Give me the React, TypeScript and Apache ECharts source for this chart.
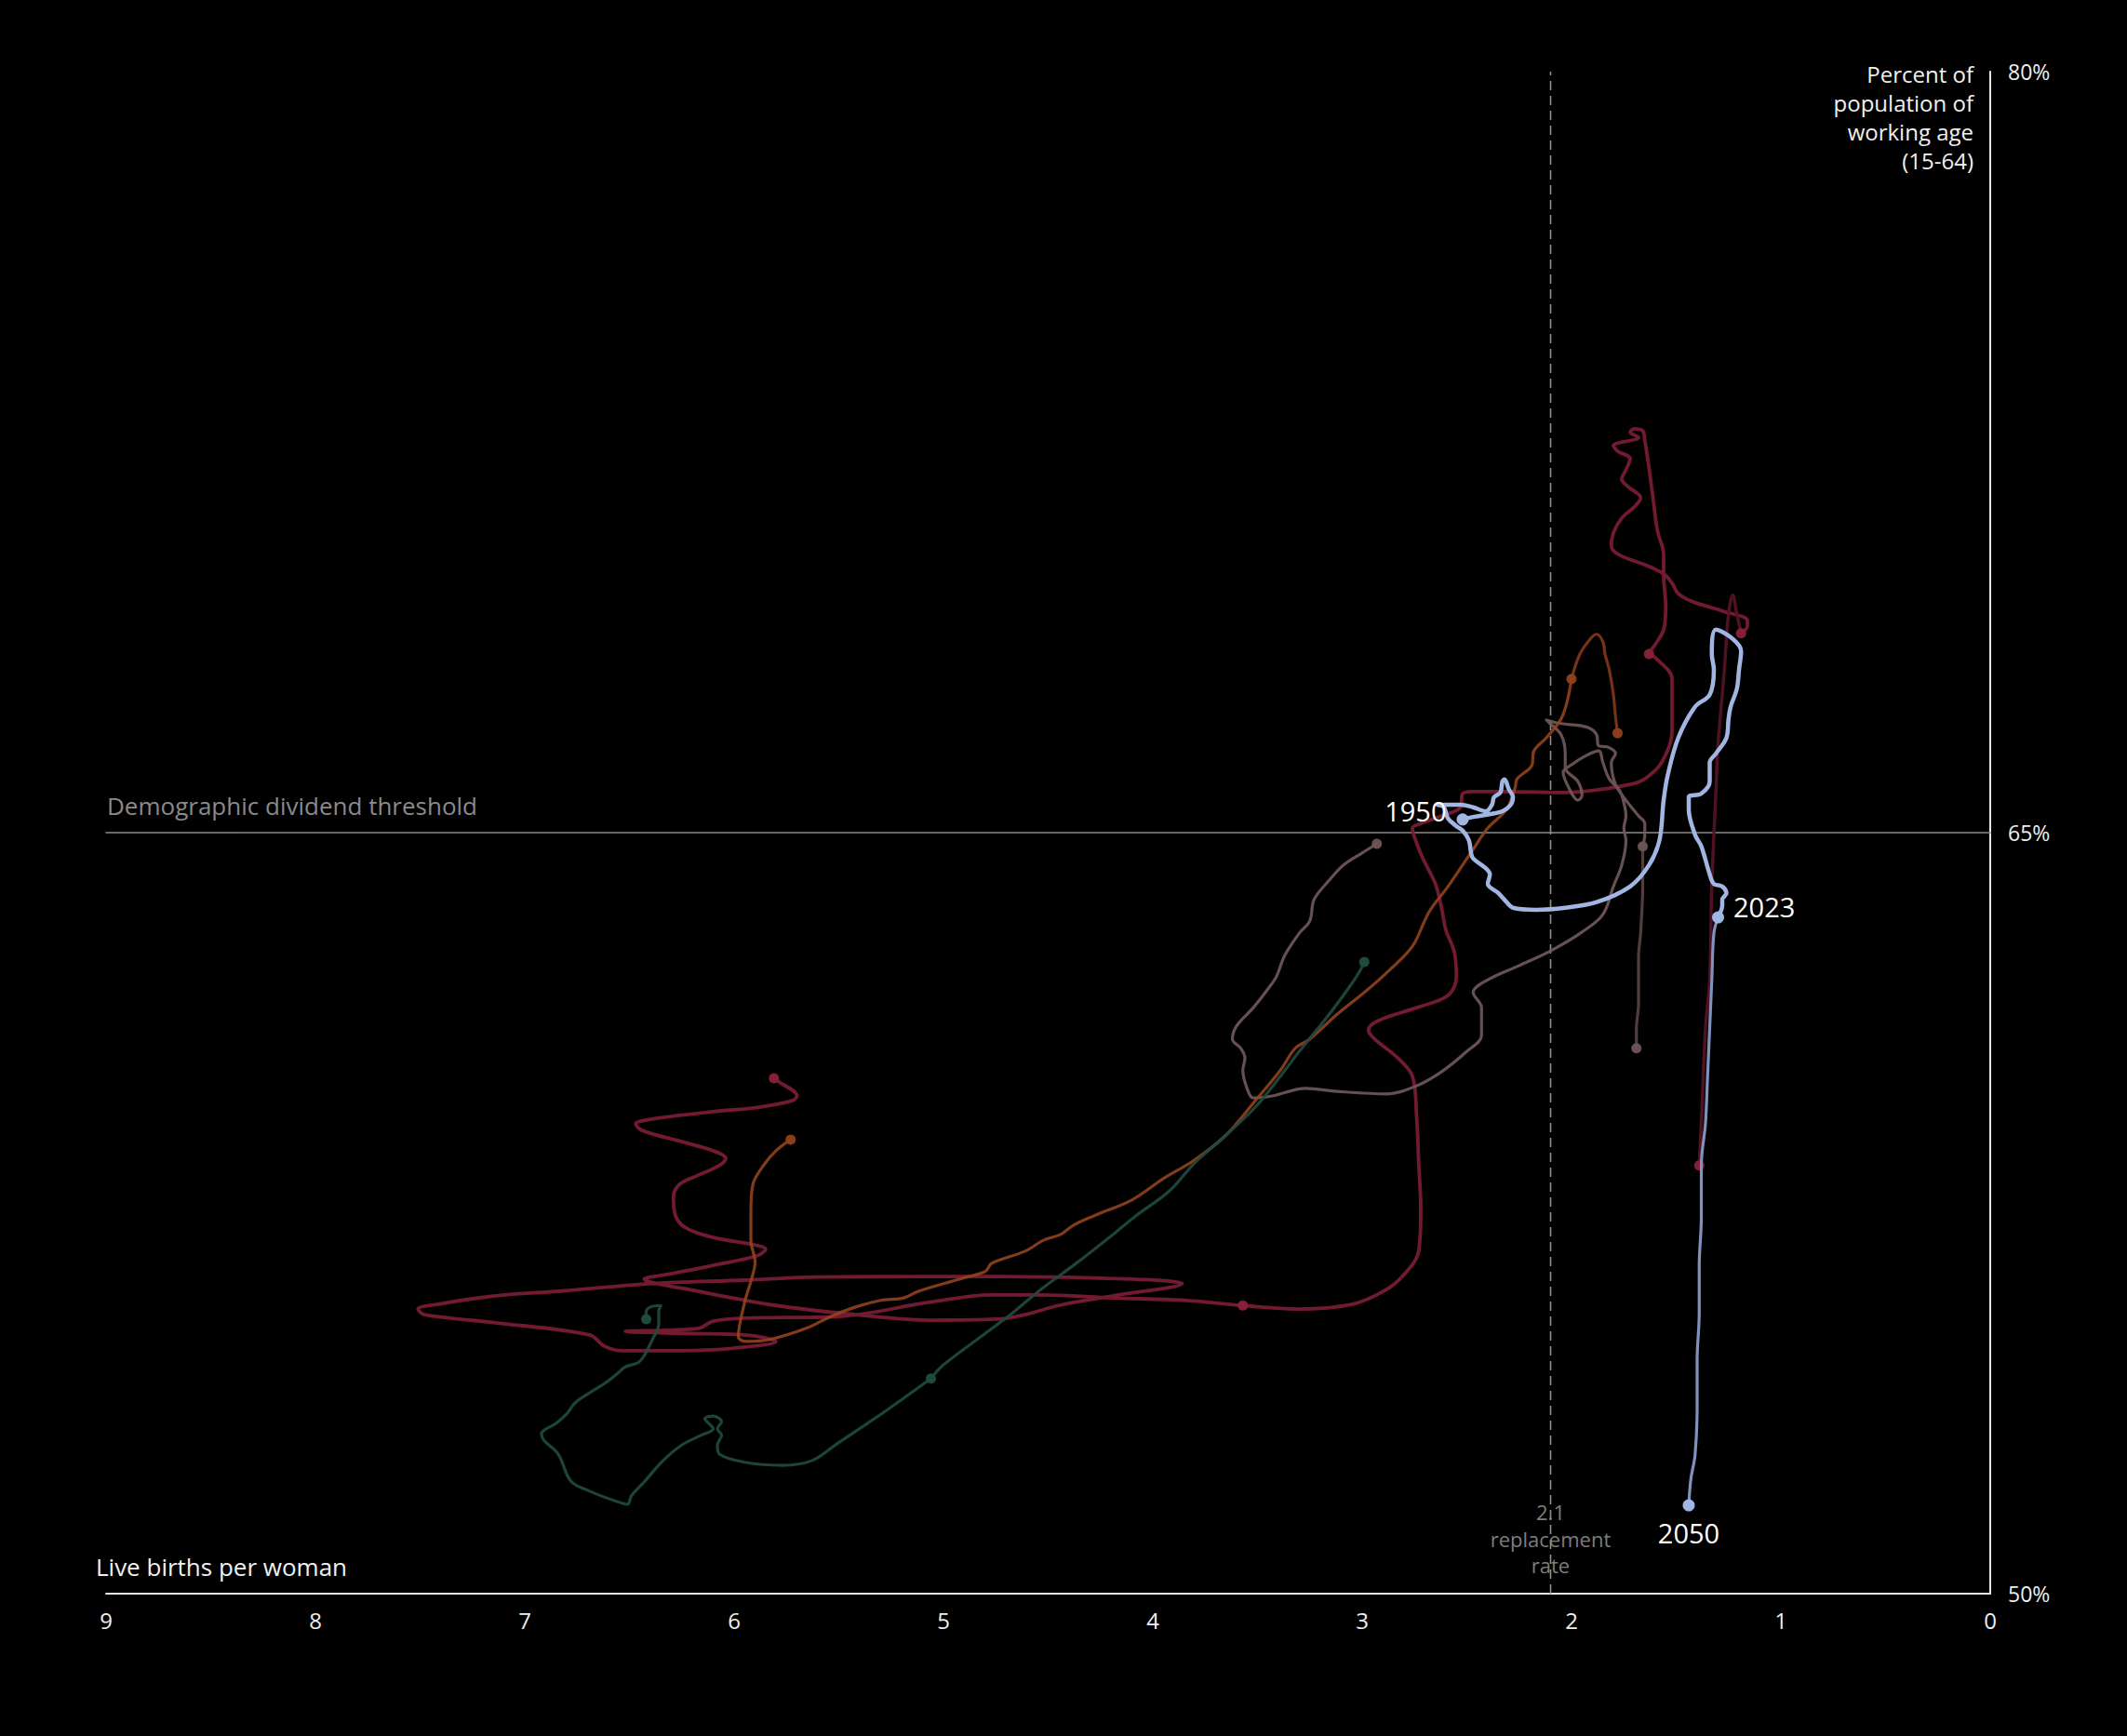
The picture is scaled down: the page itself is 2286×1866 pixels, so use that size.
import React, { useEffect, useRef } from "react";
import * as echarts from "echarts";

const W = 2286;
const H = 1866;
const FONT = "'Open Sans', Lato, 'DejaVu Sans', sans-serif";

// Axis setup
const xMin = 0;
const xMax = 9;
const yMin = 50;
const yMax = 80;
const yInterval = 15;
const thresholdValue = 65;
const replacementRate = 2.1;

const thresholdLine = [[9, 65], [0, 65]];
const replacementLine = [[2.1, 50], [2.1, 80]];

// Crimson country (history 1950-2023)
const crimsonHist = [
  [5.81,60.16],[5.79,60.10],[5.70,59.81],[5.72,59.72],[5.88,59.59],[6.10,59.50],[6.40,59.35],[6.47,59.26],[6.44,59.13],[6.25,58.91],[6.10,58.73],[6.04,58.58],[6.07,58.44],[6.17,58.25],[6.26,58.07],[6.29,57.81],[6.28,57.45],[6.23,57.21],[6.10,57.02],[5.91,56.88],[5.85,56.79],[5.89,56.66],[6.10,56.47],[6.32,56.29],[6.43,56.20],[6.40,56.14],[6.25,56.02],[5.80,55.68],[5.42,55.50],[5.07,55.39],[4.75,55.41],[4.61,55.50],[4.45,55.68],[4.19,55.87],[3.86,56.11],[4.10,56.20],[4.72,56.25],[5.06,56.25],[5.60,56.24],[5.95,56.18],[6.40,56.11],[6.84,55.96],[7.14,55.87],[7.42,55.70],[7.51,55.61],[7.48,55.50],[7.14,55.34],[6.69,55.10],[6.62,54.88],[6.54,54.79],[6.25,54.79],[6.00,54.84],[5.80,54.97],[5.95,55.10],[6.25,55.13],[6.52,55.17],[6.17,55.23],[6.10,55.37],[5.95,55.43],[5.51,55.46],[5.07,55.74],[4.77,55.89],[4.54,55.89],[4.19,55.83],[3.84,55.78],[3.57,55.68],[3.31,55.61],[3.05,55.70],[2.89,55.98],[2.80,56.29],[2.73,56.75],[2.72,57.57],[2.73,58.49],[2.74,59.41],[2.76,60.20],[2.83,60.56],[2.94,60.93],[2.97,61.11],[2.92,61.30],[2.74,61.55],[2.59,61.79],[2.55,62.16],[2.56,62.65],[2.60,63.08],[2.62,63.50],[2.65,63.99],[2.71,64.49],[2.75,64.91],[2.76,65.09],[2.72,65.18],[2.62,65.33],[2.53,65.50],[2.52,65.77],[2.47,65.81],[2.32,65.81],[2.03,65.79],[1.88,65.84],[1.72,65.95],[1.65,66.06],[1.57,66.38],[1.52,66.98],[1.52,67.60],[1.52,68.03],[1.60,68.45],[1.63,68.52],[1.60,68.71],[1.56,69.00],[1.55,69.44],[1.56,70.10],[1.56,70.47],[1.59,70.96],[1.61,71.57],[1.63,72.19],[1.65,72.74],[1.66,72.92],[1.70,72.96],[1.72,72.89],[1.68,72.79],[1.80,72.63],[1.78,72.52],[1.72,72.37],[1.74,72.15],[1.76,71.97],[1.73,71.82],[1.67,71.60],[1.70,71.42],[1.76,71.20],[1.80,70.91],[1.81,70.65],[1.77,70.47],[1.65,70.28],[1.56,70.10],[1.52,69.92],[1.49,69.71],[1.42,69.55],[1.28,69.37],[1.16,69.18],[1.16,69.07],[1.19,68.93]
];
const crimsonProj = [
  [1.19,68.93],[1.21,69.31],[1.23,69.68],[1.25,69.31],[1.27,68.21],[1.30,66.74],[1.31,65.83],[1.33,63.96],[1.34,62.09],[1.36,61.15],[1.38,59.28],[1.39,58.44]
];
const crimsonDots = [[5.81,60.16],[3.57,55.68],[1.63,68.52],[1.19,68.93],[1.39,58.44]];

// Mauve country
const mauveHist = [
  [2.93,64.78],[3.00,64.60],[3.09,64.36],[3.16,64.05],[3.23,63.68],[3.25,63.26],[3.30,63.02],[3.37,62.58],[3.41,62.16],[3.45,61.92],[3.52,61.55],[3.60,61.19],[3.62,60.93],[3.58,60.75],[3.56,60.56],[3.57,60.32],[3.55,59.96],[3.52,59.77],[3.43,59.81],[3.27,59.96],[3.12,59.90],[2.88,59.85],[2.74,60.01],[2.62,60.29],[2.50,60.69],[2.43,61.00],[2.43,61.55],[2.47,61.85],[2.40,62.10],[2.25,62.38],[2.10,62.67],[1.95,63.04],[1.85,63.39],[1.80,63.94],[1.76,64.36],[1.74,64.85],[1.75,65.09],[1.74,65.33],[1.75,65.59],[1.77,65.83],[1.82,66.06],[1.85,66.38],[1.87,66.61],[1.93,66.52],[2.00,66.34],[2.04,66.19],[2.01,65.86],[1.97,65.64],[1.95,65.73],[1.97,66.01],[2.03,66.28],[2.03,66.56],[2.05,66.93],[2.11,67.18],[2.12,67.22],[2.05,67.15],[1.96,67.11],[1.91,67.05],[1.88,66.93],[1.87,66.71],[1.83,66.69],[1.79,66.56],[1.81,66.38],[1.79,65.95],[1.74,65.64],[1.68,65.33],[1.65,65.18],[1.65,64.96],[1.66,64.73]
];
const mauveProj = [
  [1.66,64.73],[1.66,63.96],[1.67,63.02],[1.68,62.54],[1.68,62.08],[1.68,61.61],[1.69,61.15],[1.69,60.75]
];
const mauveDots = [[2.93,64.78],[1.66,64.73],[1.69,60.75]];

// Orange country
const orangeHist = [
  [5.73,58.95],[5.80,58.73],[5.86,58.44],[5.91,58.07],[5.92,57.52],[5.92,56.97],[5.90,56.53],[5.92,56.16],[5.95,55.74],[5.98,55.06],[5.94,54.97],[5.83,55.01],[5.65,55.24],[5.54,55.46],[5.42,55.65],[5.30,55.78],[5.19,55.83],[5.12,55.96],[4.89,56.24],[4.80,56.35],[4.77,56.51],[4.61,56.75],[4.52,56.97],[4.44,57.08],[4.38,57.26],[4.28,57.45],[4.10,57.76],[3.95,58.18],[3.80,58.55],[3.65,59.04],[3.51,59.72],[3.39,60.32],[3.32,60.75],[3.25,60.93],[3.12,61.42],[2.99,61.85],[2.87,62.29],[2.76,62.76],[2.68,63.44],[2.59,63.94],[2.47,64.67],[2.40,65.09],[2.31,65.46],[2.27,65.88],[2.26,66.06],[2.19,66.32],[2.18,66.61],[2.12,66.87],[2.05,67.24],[2.02,67.60],[2.00,68.03]
];
const orangeProj = [
  [2.00,68.03],[1.96,68.52],[1.91,68.82],[1.88,68.91],[1.85,68.76],[1.84,68.52],[1.82,68.21],[1.80,67.72],[1.79,67.29],[1.78,66.96]
];
const orangeDots = [[5.73,58.95],[2.00,68.03],[1.78,66.96]];

// Green country
const greenHist = [
  [6.42,55.41],[6.42,55.56],[6.40,55.65],[6.35,55.68],[6.36,55.56],[6.36,55.32],[6.39,55.01],[6.43,54.69],[6.46,54.55],[6.52,54.47],[6.56,54.33],[6.62,54.14],[6.69,53.96],[6.76,53.76],[6.80,53.54],[6.85,53.36],[6.92,53.15],[6.91,53.03],[6.84,52.75],[6.78,52.22],[6.69,52.02],[6.57,51.83],[6.51,51.76],[6.49,51.93],[6.43,52.20],[6.34,52.62],[6.25,52.93],[6.16,53.12],[6.10,53.25],[6.14,53.45],[6.10,53.50],[6.06,53.39],[6.08,53.25],[6.06,53.12],[6.08,52.93],[6.07,52.75],[5.95,52.59],[5.77,52.53],[5.63,52.62],[5.51,52.95],[5.28,53.59],[5.06,54.24]
];
const greenProj = [
  [5.06,54.24],[5.00,54.51],[4.80,55.13],[4.68,55.50],[4.54,55.98],[4.36,56.53],[4.19,57.08],[4.08,57.45],[3.92,57.94],[3.80,58.49],[3.65,59.04],[3.51,59.59],[3.39,60.20],[3.30,60.69],[3.18,61.30],[3.09,61.79],[3.02,62.21],[2.99,62.45]
];
const greenDots = [[6.42,55.41],[5.06,54.24],[2.99,62.45]];

// Highlighted (blue) country
const blueHist = [
  [2.52,65.26],[2.47,65.31],[2.38,65.37],[2.33,65.42],[2.29,65.55],[2.28,65.70],[2.30,65.86],[2.32,66.05],[2.33,66.01],[2.34,65.79],[2.37,65.70],[2.38,65.55],[2.41,65.42],[2.47,65.50],[2.53,65.55],[2.64,65.55],[2.61,65.50],[2.59,65.28],[2.55,65.13],[2.52,65.04],[2.49,64.85],[2.48,64.60],[2.47,64.49],[2.41,64.30],[2.39,64.18],[2.40,63.99],[2.35,63.81],[2.31,63.63],[2.28,63.52],[2.17,63.48],[2.03,63.52],[1.88,63.63],[1.72,63.94],[1.63,64.36],[1.58,64.85],[1.56,65.64],[1.54,66.14],[1.49,66.87],[1.41,67.48],[1.34,67.72],[1.32,68.21],[1.33,68.52],[1.31,69.00],[1.23,68.82],[1.19,68.58],[1.20,68.21],[1.21,67.84],[1.24,67.48],[1.25,67.24],[1.26,66.87],[1.31,66.56],[1.34,66.38],[1.34,66.01],[1.38,65.77],[1.44,65.70],[1.44,65.46],[1.41,64.96],[1.38,64.73],[1.34,64.18],[1.32,63.99],[1.28,63.94],[1.26,63.81],[1.28,63.68],[1.28,63.57],[1.30,63.33]
];
const blueProj = [
  [1.30,63.33],[1.32,63.02],[1.33,62.09],[1.34,61.15],[1.35,60.21],[1.36,59.28],[1.38,58.44],[1.38,57.41],[1.39,56.47],[1.39,55.54],[1.40,54.60],[1.40,53.67],[1.41,52.73],[1.43,52.26],[1.44,51.74]
];
const blueDots = [[2.52,65.26],[1.30,63.33],[1.44,51.74]];
const blueDotLabels = ["1950", "2023", "2050"];

const yTitleLines = ["Percent of", "population of", "working age", "(15-64)"];
const xTitle = "Live births per woman";
const thresholdText = "Demographic dividend threshold";
const replacementTextLines = ["2.1", "replacement", "rate"];

export default function App() {
  const ref = useRef<HTMLDivElement>(null);

  useEffect(() => {
    document.body.style.margin = "0";
    document.body.style.background = "#000";
    const chart = echarts.init(ref.current as HTMLDivElement, null, { renderer: "svg" });

    const line = (data: number[][], color: string, width: number, z: number, opacity = 1) => ({
      type: "line",
      data,
      smooth: 0.35,
      symbol: "none",
      showSymbol: false,
      silent: true,
      z,
      lineStyle: { color, width, opacity, cap: "round", join: "round" },
    });
    const dots = (data: any[], color: string, size: number, z: number, opacity = 1) => ({
      type: "scatter",
      data,
      symbolSize: size,
      silent: true,
      z,
      itemStyle: { color, opacity },
    });

    const labelPos: any[] = [
      { position: "left", distance: 11, offset: [0, -9] },
      { position: "right", distance: 10, offset: [0, -12] },
      { position: "bottom", distance: 8, offset: [0, 0] },
    ];

    const blueDotData = blueDots.map((v, i) => ({
      value: v,
      label: {
        show: true,
        formatter: blueDotLabels[i],
        color: "#ffffff",
        fontSize: 29,
        fontFamily: FONT,
        ...labelPos[i],
      },
    }));

    const option: any = {
      animation: false,
      backgroundColor: "#000000",
      grid: { left: 114, right: 147, top: 77, bottom: 153, containLabel: false },
      xAxis: {
        type: "value",
        min: xMin,
        max: xMax,
        interval: 1,
        inverse: true,
        axisLine: { show: true, onZero: false, lineStyle: { color: "#e6e6e6", width: 2 } },
        axisTick: { show: false },
        splitLine: { show: false },
        axisLabel: { color: "#eeeeee", fontSize: 24, margin: 16, fontFamily: FONT },
      },
      yAxis: {
        type: "value",
        position: "right",
        min: yMin,
        max: yMax,
        interval: yInterval,
        axisLine: { show: true, onZero: false, lineStyle: { color: "#e6e6e6", width: 2 } },
        axisTick: { show: false },
        splitLine: { show: false },
        axisLabel: { color: "#eeeeee", fontSize: 23, margin: 19, fontFamily: FONT, formatter: "{value}%" },
      },
      series: [
        line(thresholdLine, "#8a8a8a", 1.5, 1),
        {
          type: "line",
          data: replacementLine,
          symbol: "none",
          silent: true,
          z: 1,
          lineStyle: { color: "#8f8f8f", width: 1.6, type: [10, 6] },
        },
        line(crimsonHist, "#7e1d35", 3.8, 2, 0.9),
        line(crimsonProj, "#561424", 3.5, 2, 0.9),
        dots(crimsonDots, "#8a2139", 11, 3, 0.95),
        line(mauveHist, "#72595b", 3.2, 4, 0.9),
        line(mauveProj, "#594544", 3.2, 4, 0.9),
        dots(mauveDots, "#6d5556", 11, 5, 0.95),
        line(orangeHist, "#95441f", 3.2, 6, 0.88),
        line(orangeProj, "#86391a", 3.2, 6, 0.88),
        dots(orangeDots, "#8f401c", 11, 7, 0.95),
        line(greenHist, "#1f4a3e", 3.2, 8, 0.92),
        line(greenProj, "#1f4a3e", 3.2, 8, 0.92),
        dots(greenDots, "#1f4a3e", 11, 9),
        line(blueHist, "#a2b6e3", 4.5, 10),
        line(blueProj, "#8191bd", 3.2, 10),
        dots(blueDotData, "#a2b6e3", 13, 11),
      ],
    };

    chart.setOption(option);

    const px = (x: number, y: number) => chart.convertToPixel({ gridIndex: 0 }, [x, y]) as number[];
    const thr = px(xMax, thresholdValue);
    const rep = px(replacementRate, yMin);
    const topRight = px(xMin, yMax);
    const bottomLeft = px(xMax, yMin);

    const repGraphics = replacementTextLines.map((t, i) => ({
      type: "text",
      x: rep[0],
      y: rep[1] - 88 + i * 28.5,
      silent: true,
      style: {
        text: t,
        fill: "#7d7d7d",
        fontSize: 22,
        fontFamily: FONT,
        textAlign: "center",
        textVerticalAlign: "middle",
      },
    }));

    const yTitleGraphics = yTitleLines.map((t, i) => ({
      type: "text",
      x: topRight[0] - 18,
      y: topRight[1] + 2 + i * 31,
      silent: true,
      style: {
        text: t,
        fill: "#f0f0f0",
        fontSize: 24,
        fontFamily: FONT,
        textAlign: "right",
        textVerticalAlign: "middle",
      },
    }));

    chart.setOption({
      graphic: [
        {
          type: "text",
          x: thr[0] + 1,
          y: thr[1] - 29,
          silent: true,
          style: {
            text: thresholdText,
            fill: "#8a8a8a",
            fontSize: 26,
            fontFamily: FONT,
            textAlign: "left",
            textVerticalAlign: "middle",
          },
        },
        ...repGraphics,
        {
          type: "text",
          x: bottomLeft[0] - 11,
          y: bottomLeft[1] - 29,
          silent: true,
          style: {
            text: xTitle,
            fill: "#f0f0f0",
            fontSize: 26,
            fontFamily: FONT,
            textAlign: "left",
            textVerticalAlign: "middle",
          },
        },
        ...yTitleGraphics,
      ],
    });

    return () => {
      chart.dispose();
    };
  }, []);

  return <div ref={ref} style={{ width: W, height: H, background: "#000" }} />;
}
